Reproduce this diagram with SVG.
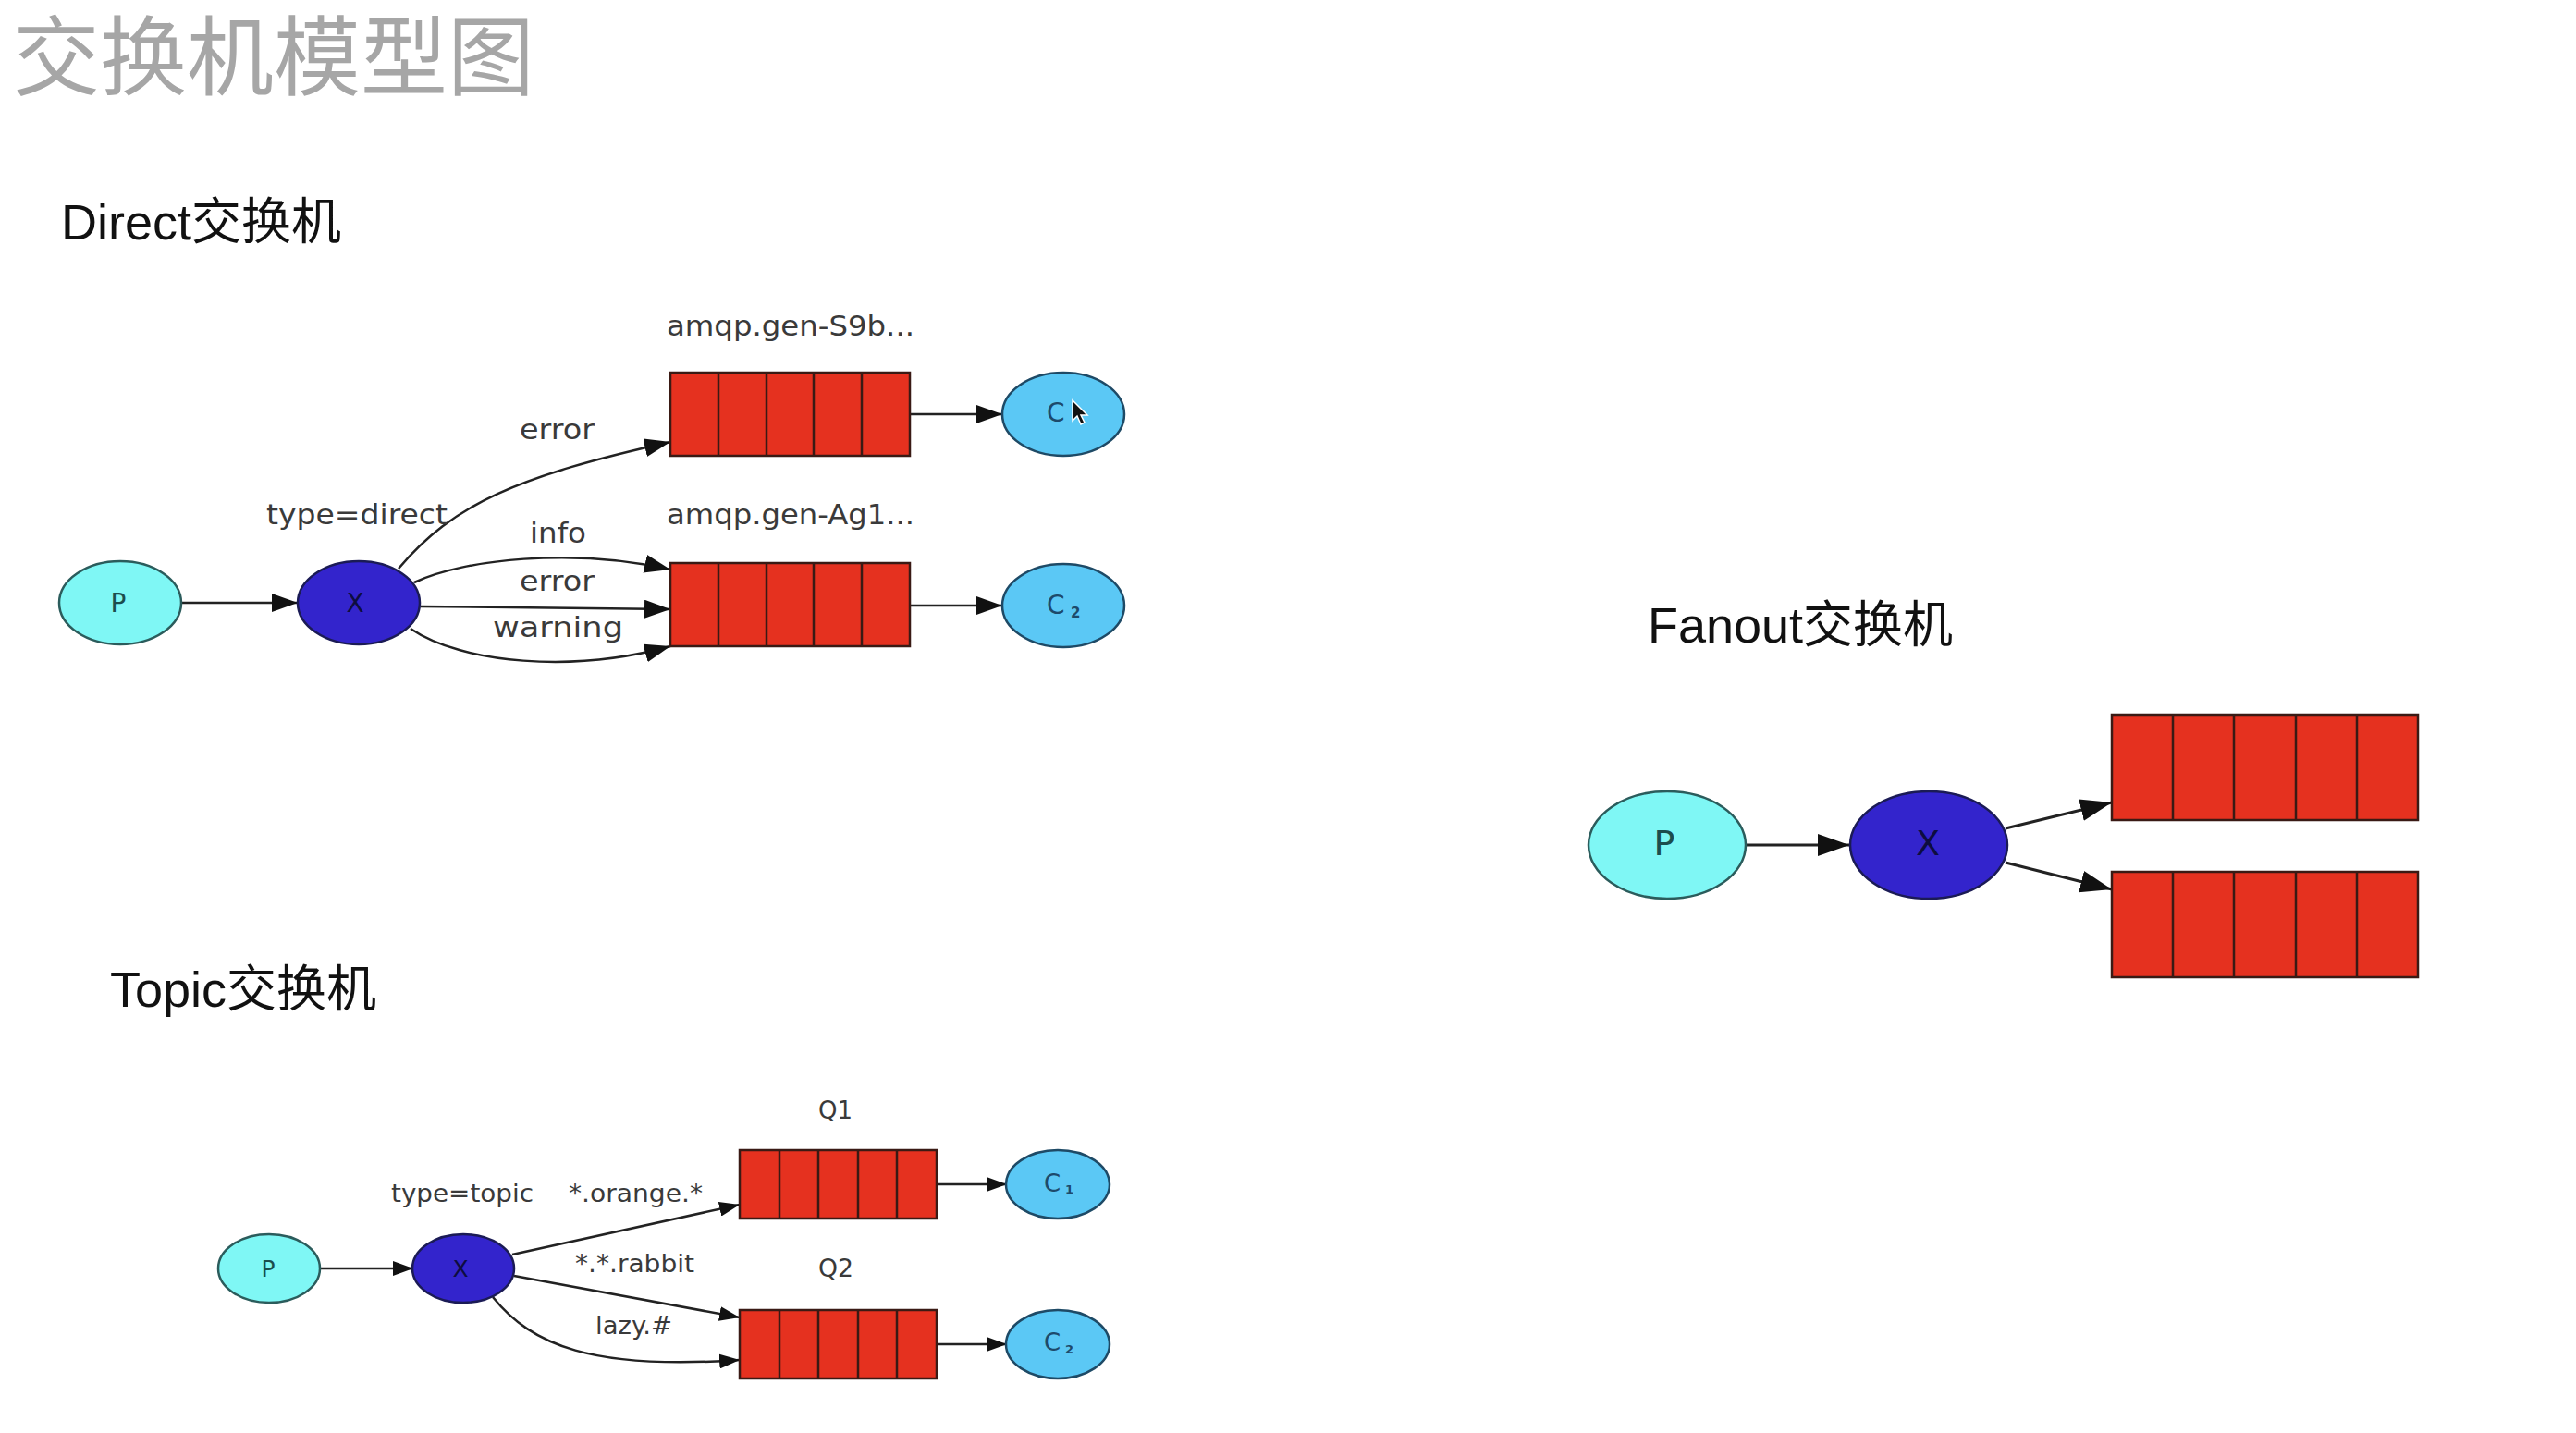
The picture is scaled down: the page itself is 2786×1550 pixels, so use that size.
<svg xmlns="http://www.w3.org/2000/svg" width="2786" height="1550" viewBox="0 0 2786 1550">
<style>
.title{font-family:"Liberation Sans","Noto Sans CJK SC",sans-serif;font-size:94px;fill:#a6a6a6}
.hdr{font-family:"Liberation Sans","Noto Sans CJK SC",sans-serif;font-size:54px;fill:#111}
.lbl{font-family:"DejaVu Sans",sans-serif;font-size:30px;fill:#3a3a3a}
.lbs{font-family:"DejaVu Sans",sans-serif;font-size:26px;fill:#3a3a3a}
.pn{fill:#7ff7f5;stroke:#2b5c5c;stroke-width:2.5}
.xn{fill:#3324cc;stroke:#1b1b55;stroke-width:2.5}
.cn{fill:#5bc8f5;stroke:#1e4a66;stroke-width:2.5}
.q{fill:#e5311f;stroke:#3a1a14;stroke-width:2.5}
.qd{stroke:#3a1a14;stroke-width:2.5}
.nt{font-family:"DejaVu Sans",sans-serif;text-anchor:middle}
.tp{fill:#1c4d4d}
.tx{fill:#0d0d40}
.tc{fill:#1d4a6b;font-family:"DejaVu Sans",sans-serif}
.e{fill:none;stroke:#222;stroke-width:2.5}
.ef{fill:none;stroke:#222;stroke-width:3}
</style>
<defs>
<marker id="am" markerUnits="userSpaceOnUse" markerWidth="28" markerHeight="20" refX="28" refY="10" orient="auto"><path d="M0,0 L28,10 L0,20 z" fill="#111"/></marker>
<marker id="as" markerUnits="userSpaceOnUse" markerWidth="22" markerHeight="16" refX="22" refY="8" orient="auto"><path d="M0,0 L22,8 L0,16 z" fill="#111"/></marker>
<marker id="al" markerUnits="userSpaceOnUse" markerWidth="34" markerHeight="24" refX="34" refY="12" orient="auto"><path d="M0,0 L34,12 L0,24 z" fill="#111"/></marker>
</defs>

<text class="title" x="14" y="96">交换机模型图</text>
<text class="hdr" x="66" y="259">Direct交换机</text>
<text class="hdr" x="1782" y="695">Fanout交换机</text>
<text class="hdr" x="119" y="1089">Topic交换机</text>

<g id="connectors">
<path class="e" d="M196,652 L322,652" marker-end="url(#am)"/>
<path class="e" d="M431,615 C490,545 560,515 725,478" marker-end="url(#am)"/>
<path class="e" d="M448,630 C500,605 620,592 725,616" marker-end="url(#am)"/>
<path class="e" d="M455,656 L725,659" marker-end="url(#am)"/>
<path class="e" d="M444,680 C500,718 620,728 725,699" marker-end="url(#am)"/>
<path class="e" d="M984,448 L1084,448" marker-end="url(#am)"/>
<path class="e" d="M984,655 L1084,655" marker-end="url(#am)"/>
<path class="e" d="M347,1372 L447,1372" marker-end="url(#as)"/>
<path class="e" d="M554,1357 L800,1303" marker-end="url(#as)"/>
<path class="e" d="M556,1380 L800,1425" marker-end="url(#as)"/>
<path class="e" d="M533,1403 C575,1455 640,1482 800,1471" marker-end="url(#as)"/>
<path class="e" d="M1013,1281 L1089,1281" marker-end="url(#as)"/>
<path class="e" d="M1013,1454 L1089,1454" marker-end="url(#as)"/>
<path class="ef" d="M1888,914 L2000,914" marker-end="url(#al)"/>
<path class="ef" d="M2169,896 L2284,868" marker-end="url(#al)"/>
<path class="ef" d="M2169,933 L2284,962" marker-end="url(#al)"/>
<text class="lbl" x="562" y="475" textLength="81" lengthAdjust="spacingAndGlyphs">error</text>
<text class="lbl" x="288" y="567" textLength="196" lengthAdjust="spacingAndGlyphs">type=direct</text>
<text class="lbl" x="573" y="587" textLength="61" lengthAdjust="spacingAndGlyphs">info</text>
<text class="lbl" x="562" y="639" textLength="81" lengthAdjust="spacingAndGlyphs">error</text>
<text class="lbl" x="533" y="689" textLength="141" lengthAdjust="spacingAndGlyphs">warning</text>
<text class="lbs" x="423" y="1300" textLength="154" lengthAdjust="spacingAndGlyphs">type=topic</text>
<text class="lbs" x="615" y="1300" textLength="145" lengthAdjust="spacingAndGlyphs">*.orange.*</text>
<text class="lbs" x="622" y="1376" textLength="129" lengthAdjust="spacingAndGlyphs">*.*.rabbit</text>
<text class="lbs" x="644" y="1443" textLength="83" lengthAdjust="spacingAndGlyphs">lazy.#</text>
</g>

<!-- Direct -->
<g id="d-p"><ellipse class="pn" cx="130" cy="652" rx="66" ry="45"/><text class="nt tp" x="128" y="662" font-size="28">P</text></g>
<g id="d-x"><ellipse class="xn" cx="388" cy="652" rx="66" ry="45"/><text class="nt tx" x="384" y="662" font-size="28">X</text></g>
<g id="d-q1">
<text class="lbl" x="721" y="363" textLength="268" lengthAdjust="spacingAndGlyphs">amqp.gen-S9b...</text>
<rect class="q" x="725" y="403" width="259" height="90"/>
<path class="qd" d="M777,403V493M829,403V493M880,403V493M932,403V493"/>
</g>
<g id="d-q2">
<text class="lbl" x="721" y="567" textLength="268" lengthAdjust="spacingAndGlyphs">amqp.gen-Ag1...</text>
<rect class="q" x="725" y="609" width="259" height="90"/>
<path class="qd" d="M777,609V699M829,609V699M880,609V699M932,609V699"/>
</g>
<g id="d-c1"><ellipse class="cn" cx="1150" cy="448" rx="66" ry="45"/><text class="tc" x="1132" y="456" font-size="28">C</text>
<path d="M1160,433 L1160,455 L1165,450 L1169,459 L1173,457 L1169,449 L1176,449 Z" fill="#111" stroke="#fff" stroke-width="1.5"/></g>
<g id="d-c2"><ellipse class="cn" cx="1150" cy="655" rx="66" ry="45"/><text class="tc" x="1132" y="664" font-size="28">C<tspan x="1158" y="668" font-size="15" font-weight="bold">2</tspan></text></g>

<!-- Topic -->
<g id="t-p"><ellipse class="pn" cx="291" cy="1372" rx="55" ry="37"/><text class="nt tp" x="290" y="1381" font-size="25">P</text></g>
<g id="t-x"><ellipse class="xn" cx="501" cy="1372" rx="55" ry="37"/><text class="nt tx" x="498" y="1381" font-size="25">X</text></g>
<g id="t-q1">
<text class="lbs" x="885" y="1210" textLength="37" lengthAdjust="spacingAndGlyphs">Q1</text>
<rect class="q" x="800" y="1244" width="213" height="74"/>
<path class="qd" d="M843,1244V1318M885,1244V1318M928,1244V1318M970,1244V1318"/>
</g>
<g id="t-q2">
<text class="lbs" x="885" y="1381" textLength="38" lengthAdjust="spacingAndGlyphs">Q2</text>
<rect class="q" x="800" y="1417" width="213" height="74"/>
<path class="qd" d="M843,1417V1491M885,1417V1491M928,1417V1491M970,1417V1491"/>
</g>
<g id="t-c1"><ellipse class="cn" cx="1144" cy="1281" rx="56" ry="37"/><text class="tc" x="1129" y="1289" font-size="26">C<tspan x="1152" y="1291" font-size="13" font-weight="bold">1</tspan></text></g>
<g id="t-c2"><ellipse class="cn" cx="1144" cy="1454" rx="56" ry="37"/><text class="tc" x="1129" y="1461" font-size="26">C<tspan x="1152" y="1464" font-size="13" font-weight="bold">2</tspan></text></g>

<!-- Fanout -->
<g id="f-p"><ellipse class="pn" cx="1803" cy="914" rx="85" ry="58" stroke-width="3"/><text class="nt tp" x="1800" y="925" font-size="38">P</text></g>
<g id="f-x"><ellipse class="xn" cx="2086" cy="914" rx="85" ry="58" stroke-width="3"/><text class="nt tx" x="2085" y="925" font-size="38">X</text></g>
<g id="f-q1">
<rect class="q" x="2284" y="773" width="331" height="114" stroke-width="3"/>
<path class="qd" stroke-width="3" d="M2350,773V887M2416,773V887M2483,773V887M2549,773V887"/>
</g>
<g id="f-q2">
<rect class="q" x="2284" y="943" width="331" height="114" stroke-width="3"/>
<path class="qd" stroke-width="3" d="M2350,943V1057M2416,943V1057M2483,943V1057M2549,943V1057"/>
</g>
</svg>
